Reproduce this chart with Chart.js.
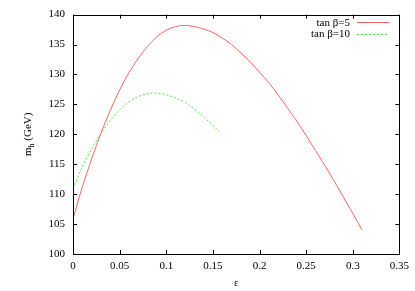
<!DOCTYPE html>
<html>
<head>
<meta charset="utf-8">
<script src="https://cdn.jsdelivr.net/npm/chart.js@4/dist/chart.umd.min.js"></script>
<style>
  html, body { margin: 0; padding: 0; background: #fff; }
  #wrap { width: 415px; height: 291px; position: relative; }
</style>
</head>
<body>
<div id="wrap"><canvas id="mh-chart"></canvas></div>
<script>
// values
let seriesNames = ['tan \u03b2=5', 'tan \u03b2=10'];
let epsTan5 = [0, 0.01, 0.02, 0.03, 0.04, 0.05, 0.06, 0.07, 0.08, 0.09, 0.10, 0.11, 0.119,
    0.13, 0.14, 0.15, 0.16, 0.17, 0.18, 0.19, 0.20, 0.21, 0.22, 0.23, 0.24, 0.25,
    0.26, 0.27, 0.28, 0.29, 0.30, 0.31];
let mhTan5 = [105.9, 111.2, 115.9, 120.2, 124.0, 127.4, 130.3, 132.7, 134.7, 136.3, 137.4, 138.0, 138.2,
    138.0, 137.6, 137.0, 136.1, 135.0, 133.6, 132.1, 130.4, 128.6, 126.6, 124.4, 122.2, 119.8,
    117.3, 114.8, 112.2, 109.5, 106.8, 104.0];
let epsTan10 = [0, 0.01, 0.02, 0.03, 0.04, 0.05, 0.06, 0.07, 0.08, 0.0875,
    0.10, 0.11, 0.12, 0.13, 0.14, 0.15, 0.157];
let mhTan10 = [110.9, 114.6, 117.6, 120.2, 122.3, 124.1, 125.4, 126.3, 126.8, 126.9,
    126.6, 126.1, 125.3, 124.2, 122.9, 121.5, 120.4];
let xTicks = [0, 0.05, 0.1, 0.15, 0.2, 0.25, 0.3, 0.35];
let yTicks = [100, 105, 110, 115, 120, 125, 130, 135, 140];

let serif = "'Liberation Serif', 'DejaVu Serif', serif";
let lineColors = ['#ff6262', '#44ee44'];
let lineDashes = [[], [2, 2]];

function toPoints(xs, ys) {
    let pts = [];
    for (let i = 0; i < xs.length; i++) {
        pts.push({ x: xs[i], y: ys[i] });
    }
    return pts;
}

// frame, inward ticks on all four sides, axis titles, key
let gnuplotLook = {
    id: 'gnuplotLook',
    afterDraw(chart) {
        let ctx = chart.ctx;
        let a = chart.chartArea;
        let xs = chart.scales.x;
        let ys = chart.scales.y;
        ctx.save();
        ctx.strokeStyle = '#000';
        ctx.lineWidth = 1;
        ctx.strokeRect(Math.round(a.left) + 0.5, Math.round(a.top) + 0.5,
            Math.round(a.right - a.left), Math.round(a.bottom - a.top));
        let tl = 4;
        ctx.beginPath();
        xTicks.forEach(function (v) {
            let px = Math.round(xs.getPixelForValue(v)) + 0.5;
            ctx.moveTo(px, a.bottom); ctx.lineTo(px, a.bottom - tl);
            ctx.moveTo(px, a.top); ctx.lineTo(px, a.top + tl);
        });
        yTicks.forEach(function (v) {
            let py = Math.round(ys.getPixelForValue(v)) + 0.5;
            ctx.moveTo(a.left, py); ctx.lineTo(a.left + tl, py);
            ctx.moveTo(a.right, py); ctx.lineTo(a.right - tl, py);
        });
        ctx.stroke();

        // axis titles
        ctx.fillStyle = '#000';
        ctx.font = '11px ' + serif;
        ctx.textAlign = 'center';
        ctx.textBaseline = 'middle';
        ctx.fillText('\u03b5', (a.left + a.right) / 2, 283);

        // y title: m, subscript h, then (GeV)
        ctx.save();
        ctx.translate(27, (a.top + a.bottom) / 2);
        ctx.rotate(-Math.PI / 2);
        ctx.textAlign = 'left';
        ctx.textBaseline = 'alphabetic';
        let mainFont = '11px ' + serif;
        let subFont = '8px ' + serif;
        ctx.font = mainFont;
        let wM = ctx.measureText('m').width;
        let wRest = ctx.measureText(' (GeV)').width;
        ctx.font = subFont;
        let wH = ctx.measureText('h').width;
        let x0 = -(wM + wH + wRest) / 2;
        ctx.font = mainFont;
        ctx.fillText('m', x0, 4);
        ctx.font = subFont;
        ctx.fillText('h', x0 + wM, 7);
        ctx.font = mainFont;
        ctx.fillText(' (GeV)', x0 + wM + wH, 4);
        ctx.restore();

        // key
        ctx.textAlign = 'right';
        ctx.textBaseline = 'middle';
        ctx.font = '11px ' + serif;
        for (let i = 0; i < seriesNames.length; i++) {
            let ky = 23 + i * 11.5;
            ctx.fillStyle = '#000';
            ctx.fillText(seriesNames[i], 350, ky);
            ctx.strokeStyle = lineColors[i];
            ctx.setLineDash(lineDashes[i]);
            ctx.beginPath();
            ctx.moveTo(357, Math.round(ky) - 0.5);
            ctx.lineTo(389, Math.round(ky) - 0.5);
            ctx.stroke();
        }
        ctx.restore();
    }
};

let ctx = document.getElementById('mh-chart').getContext('2d');
new Chart(ctx, {
    type: 'scatter',
    data: {
        datasets: [{
            label: seriesNames[0],
            data: toPoints(epsTan5, mhTan5),
            showLine: true,
            borderColor: lineColors[0],
            borderWidth: 1,
            pointRadius: 0,
            cubicInterpolationMode: 'monotone'
        }, {
            label: seriesNames[1],
            data: toPoints(epsTan10, mhTan10),
            showLine: true,
            borderColor: lineColors[1],
            borderWidth: 1,
            borderDash: lineDashes[1],
            pointRadius: 0,
            cubicInterpolationMode: 'monotone'
        }]
    },
    options: {
        responsive: true,
        maintainAspectRatio: false,
        animation: false,
        layout: { padding: { top: 14, right: 13, left: 0, bottom: 0 } },
        plugins: {
            legend: { display: false },
            tooltip: { enabled: false }
        },
        scales: {
            x: {
                type: 'linear',
                min: 0,
                max: 0.35,
                afterFit: function (s) { s.height = 37; },
                afterBuildTicks: function (s) { s.ticks = xTicks.map(function (v) { return { value: v }; }); },
                grid: { display: false, drawTicks: false },
                border: { display: false },
                ticks: {
                    padding: 6,
                    maxRotation: 0,
                    color: '#000',
                    font: { family: serif, size: 11 },
                    callback: function (v) { return String(+v.toFixed(2)); }
                }
            },
            y: {
                type: 'linear',
                min: 100,
                max: 140,
                afterFit: function (s) { s.width = 73; },
                afterBuildTicks: function (s) { s.ticks = yTicks.map(function (v) { return { value: v }; }); },
                grid: { display: false, drawTicks: false },
                border: { display: false },
                ticks: {
                    padding: 8,
                    color: '#000',
                    font: { family: serif, size: 11 }
                }
            }
        }
    },
    plugins: [gnuplotLook]
});
</script>
</body>
</html>
